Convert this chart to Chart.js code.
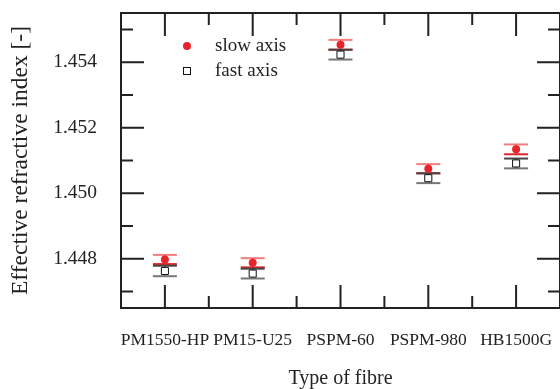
<!DOCTYPE html>
<html>
<head>
<meta charset="utf-8">
<script src="https://cdn.jsdelivr.net/npm/chart.js@4"></script>
<style>
  html, body { margin: 0; padding: 0; background: #fff; overflow: hidden; }
  #wrap { width: 566px; height: 389px; }
</style>
</head>
<body>
<div id="wrap"><canvas id="fibreChart"></canvas></div>
<script>
// fibre types on the x axis
const fibres = ['PM1550-HP', 'PM15-U25', 'PSPM-60', 'PSPM-980', 'HB1500G'];

// effective index, slow and fast axis
const slowAxis = [1.44798, 1.44788, 1.45453, 1.45075, 1.45134];
const fastAxis = [1.44763, 1.44755, 1.45423, 1.45046, 1.45091];
const slowErr  = [0.00014, 0.00014, 0.00015, 0.00014, 0.00015];
const fastErr  = [0.00016, 0.00015, 0.00015, 0.00015, 0.00015];

// y ticks
const yLabelled = [1.448, 1.450, 1.452, 1.454];
const yMinor    = [1.447, 1.449, 1.451, 1.453, 1.455];

const serif = '"Liberation Serif", "Times New Roman", serif';
const axisColor = '#222';

function toPoints(vals) {
  return vals.map((v, i) => ({ x: i + 1, y: v }));
}

// no automatic label padding, the chart area is set by hand
function noPad(s) {
  s.paddingTop = 0; s.paddingBottom = 0;
  s.paddingLeft = 0; s.paddingRight = 0;
}

// frame, inward ticks, error bars and the legend
const decorations = {
  id: 'decorations',
  beforeDatasetsDraw(chart) {
    const ctx = chart.ctx;
    const xs = chart.scales.x, ys = chart.scales.y;
    ctx.save();

    // error bars
    const bars = [
      { vals: slowAxis, err: slowErr, top: 'rgba(235,70,70,0.7)', bot: '#e0262c', stem: '#e0262c' },
      { vals: fastAxis, err: fastErr, top: '#444', bot: '#777', stem: '#222' }
    ];
    bars.forEach(b => {
      b.vals.forEach((v, i) => {
        const px = xs.getPixelForValue(i + 1);
        const yt = ys.getPixelForValue(v + b.err[i]);
        const yb = ys.getPixelForValue(v - b.err[i]);
        ctx.lineWidth = 1;
        ctx.strokeStyle = b.stem;
        ctx.beginPath(); ctx.moveTo(px, yt); ctx.lineTo(px, yb); ctx.stroke();
        ctx.lineWidth = 2;
        ctx.strokeStyle = b.top;
        ctx.beginPath(); ctx.moveTo(px - 12, yt); ctx.lineTo(px + 12, yt); ctx.stroke();
        ctx.strokeStyle = b.bot;
        ctx.beginPath(); ctx.moveTo(px - 12, yb); ctx.lineTo(px + 12, yb); ctx.stroke();
      });
    });
    ctx.restore();
  },
  afterDraw(chart) {
    const ctx = chart.ctx;
    const xs = chart.scales.x, ys = chart.scales.y;
    const a = chart.chartArea;
    ctx.save();
    ctx.strokeStyle = axisColor;
    ctx.lineWidth = 2;
    ctx.strokeRect(a.left, a.top, a.right - a.left, a.bottom - a.top);

    const major = 23, minor = 12;
    ctx.beginPath();
    fibres.forEach((f, i) => {
      const px = xs.getPixelForValue(i + 1);
      ctx.moveTo(px, a.bottom); ctx.lineTo(px, a.bottom - major);
      ctx.moveTo(px, a.top); ctx.lineTo(px, a.top + major);
      if (i < fibres.length - 1) {
        const mx = xs.getPixelForValue(i + 1.5);
        ctx.moveTo(mx, a.bottom); ctx.lineTo(mx, a.bottom - minor);
        ctx.moveTo(mx, a.top); ctx.lineTo(mx, a.top + minor);
      }
    });
    yLabelled.forEach(v => {
      const py = ys.getPixelForValue(v);
      ctx.moveTo(a.left, py); ctx.lineTo(a.left + major, py);
      ctx.moveTo(a.right, py); ctx.lineTo(a.right - major, py);
    });
    yMinor.forEach(v => {
      const py = ys.getPixelForValue(v);
      ctx.moveTo(a.left, py); ctx.lineTo(a.left + minor, py);
      ctx.moveTo(a.right, py); ctx.lineTo(a.right - minor, py);
    });
    ctx.stroke();

    // legend
    const lx = a.left + 66;
    const ly1 = a.top + 33, ly2 = a.top + 58;
    ctx.fillStyle = '#e8232a';
    ctx.beginPath(); ctx.arc(lx, ly1, 4, 0, Math.PI * 2); ctx.fill();
    ctx.fillStyle = '#fff';
    ctx.strokeStyle = '#111';
    ctx.lineWidth = 1;
    ctx.fillRect(lx - 3.5, ly2 - 3.5, 7, 7);
    ctx.strokeRect(lx - 3.5, ly2 - 3.5, 7, 7);
    ctx.fillStyle = '#222';
    ctx.font = '19px ' + serif;
    ctx.textBaseline = 'middle';
    ctx.textAlign = 'left';
    ctx.fillText('slow axis', a.left + 94, ly1);
    ctx.fillText('fast axis', a.left + 94, ly2);
    ctx.restore();
  }
};

const ctx = document.getElementById('fibreChart').getContext('2d');
const fibreChart = new Chart(ctx, {
  type: 'scatter',
  data: {
    datasets: [
      {
        label: 'slow axis',
        data: toPoints(slowAxis),
        pointStyle: 'circle',
        pointRadius: 4,
        pointHoverRadius: 4,
        backgroundColor: '#e8232a',
        borderColor: '#e8232a',
        borderWidth: 0
      },
      {
        label: 'fast axis',
        data: toPoints(fastAxis),
        pointStyle: 'rect',
        pointRadius: 5,
        pointHoverRadius: 5,
        backgroundColor: '#fff',
        borderColor: '#111',
        borderWidth: 1
      }
    ]
  },
  options: {
    responsive: true,
    maintainAspectRatio: false,
    animation: false,
    layout: { padding: { top: 13, right: 3, left: 0, bottom: 0 } },
    plugins: {
      legend: { display: false },
      tooltip: { enabled: false }
    },
    scales: {
      x: {
        type: 'linear',
        min: 0.5,
        max: 5.5,
        grid: { display: false, drawTicks: false },
        border: { display: false },
        afterBuildTicks: s => { s.ticks = fibres.map((f, i) => ({ value: i + 1 })); },
        afterFit: s => { s.height = 81; noPad(s); },
        ticks: {
          padding: 22,
          color: '#222',
          maxRotation: 0,
          autoSkip: false,
          font: { family: serif, size: 17.5 },
          callback: v => fibres[Math.round(v) - 1]
        },
        title: {
          display: true,
          text: 'Type of fibre',
          color: '#222',
          font: { family: serif, size: 20, lineHeight: 1 },
          padding: { top: 0, bottom: 0 }
        }
      },
      y: {
        min: 1.4465,
        max: 1.4555,
        grid: { display: false, drawTicks: false },
        border: { display: false },
        afterBuildTicks: s => { s.ticks = yLabelled.map(v => ({ value: v })); },
        afterFit: s => { s.width = 121; noPad(s); },
        ticks: {
          padding: 24,
          color: '#222',
          font: { family: serif, size: 19.5 },
          callback: v => v.toFixed(3)
        },
        title: {
          display: true,
          text: 'Effective refractive index [-]',
          color: '#222',
          font: { family: serif, size: 23.5, lineHeight: 1 },
          padding: { top: 9, bottom: 0 }
        }
      }
    }
  },
  plugins: [decorations]
});
</script>
</body>
</html>
